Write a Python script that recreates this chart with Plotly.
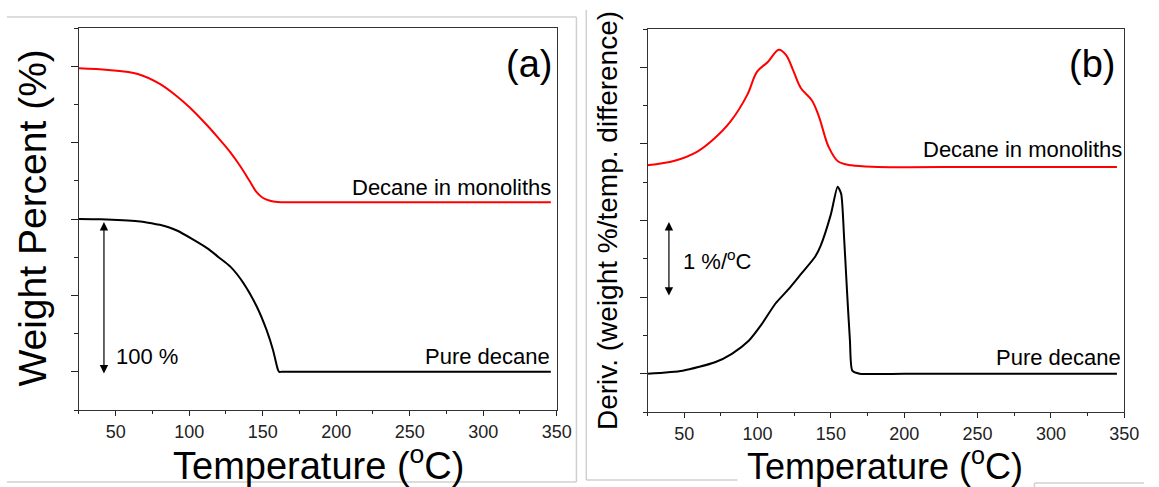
import plotly.graph_objects as go

# ---------------- data ----------------
# Panel (a): TGA weight percent (curves stacked with an offset on an unlabeled axis)
temp_a_pure = [25, 40, 55, 65, 72, 80, 86, 92, 101, 112.4, 120, 128, 137, 146, 152.6, 157, 160.4, 161.2, 163, 200, 250, 300, 346]
weight_pure = [100, 99.8, 99.2, 98.5, 97.6, 96.2, 94.6, 92.3, 87.5, 80.8, 75.0, 68.8, 57.9, 42.6, 27.4, 14.3, 1.2, 0, 0, 0, 0, 0, 0]

temp_a_mono = [25, 45, 65, 80, 92, 100, 112, 120, 128, 135, 141, 146, 150, 155, 160, 170, 200, 250, 300, 346]
weight_mono = [198.6, 197.5, 194.9, 188.4, 180.0, 173.3, 161.5, 152.8, 143.6, 134.2, 125.0, 117.4, 113.9, 111.9, 111.1, 110.9, 110.9, 110.9, 110.9, 110.9]

# Panel (b): derivative weight (%/oC, curves stacked with an offset)
temp_b_pure = [25, 49, 71, 82.5, 94, 103, 112, 121, 130, 139, 143, 150, 154.6, 157, 159, 161, 163, 164.6, 169.6, 200, 250, 300, 345]
deriv_pure = [0, 0.04, 0.15, 0.26, 0.43, 0.65, 0.91, 1.10, 1.31, 1.52, 1.67, 2.08, 2.44, 2.35, 1.78, 1.08, 0.43, 0.04, 0, 0, 0, 0, 0]

temp_b_mono = [25, 43.5, 59, 70, 81.5, 93, 99.6, 107, 114.5, 119.5, 124.3, 129.5, 137, 141.8, 148.5, 155, 164, 182, 250, 300, 345]
deriv_mono = [2.72, 2.78, 2.90, 3.06, 3.29, 3.64, 3.94, 4.07, 4.23, 4.16, 3.96, 3.73, 3.57, 3.36, 2.96, 2.77, 2.72, 2.70, 2.70, 2.70, 2.70]

x_ticks = [50, 100, 150, 200, 250, 300, 350]

# ---------------- figure ----------------
W, H = 1159, 487
FONT = "Liberation Sans, Arial, sans-serif"


def px(x):
    return x / W


def py(y):
    return 1 - y / H


fig = go.Figure()
fig.add_trace(go.Scatter(x=temp_a_mono, y=weight_mono, mode="lines", line=dict(color="#ff0000", width=2),
                         line_shape="spline", xaxis="x", yaxis="y", showlegend=False))
fig.add_trace(go.Scatter(x=temp_a_pure, y=weight_pure, mode="lines", line=dict(color="#000000", width=2),
                         line_shape="spline", line_smoothing=0.8, xaxis="x", yaxis="y", showlegend=False))
fig.add_trace(go.Scatter(x=temp_b_mono, y=deriv_mono, mode="lines", line=dict(color="#ff0000", width=2),
                         line_shape="spline", xaxis="x2", yaxis="y2", showlegend=False))
fig.add_trace(go.Scatter(x=temp_b_pure, y=deriv_pure, mode="lines", line=dict(color="#000000", width=2),
                         line_shape="spline", line_smoothing=0.6, xaxis="x2", yaxis="y2", showlegend=False))

xaxis_common = dict(
    range=[25, 350], tickvals=x_ticks, ticks="outside", ticklen=5, tickwidth=1, tickcolor="#222",
    showline=True, linecolor="#333", linewidth=1, mirror=True, showgrid=False, zeroline=False,
    tickfont=dict(family=FONT, size=18, color="#222"),
    minor=dict(dtick=25, tick0=0, ticks="outside", ticklen=3, tickcolor="#222", showgrid=False),
)

fig.update_layout(
    width=W, height=H, margin=dict(l=0, r=0, t=0, b=0), autosize=False,
    paper_bgcolor="white", plot_bgcolor="white",
    xaxis=dict(domain=[px(80), px(564)], anchor="y", **xaxis_common),
    yaxis=dict(domain=[py(410), py(28)], anchor="x", range=[-25, 225], tick0=0, dtick=50,
               showticklabels=False, ticks="outside", ticklen=7, tickcolor="#222",
               showline=True, linecolor="#333", linewidth=1, mirror=True, showgrid=False, zeroline=False,
               minor=dict(dtick=25, tick0=0, ticks="outside", ticklen=4, tickcolor="#222", showgrid=False)),
    xaxis2=dict(domain=[px(656), px(1139)], anchor="y2", **xaxis_common),
    yaxis2=dict(domain=[py(412), py(29)], anchor="x2", range=[-0.5, 4.5], tick0=0, dtick=1,
                showticklabels=False, ticks="outside", ticklen=7, tickcolor="#222",
                showline=True, linecolor="#333", linewidth=1, mirror=True, showgrid=False, zeroline=False,
                minor=dict(dtick=0.5, tick0=0, ticks="outside", ticklen=4, tickcolor="#222", showgrid=False)),
    font=dict(family=FONT, color="#000"),
)

ann = []
# axis titles
ann.append(dict(text="Weight Percent (%)", x=px(32), y=py(218), xref="paper", yref="paper",
                textangle=-90, showarrow=False, font=dict(size=39, family=FONT, color="#000"),
                xanchor="center", yanchor="middle"))
ann.append(dict(text="Temperature (<sup>o</sup>C)", x=px(322.5), y=py(463), xref="paper", yref="paper",
                showarrow=False, font=dict(size=38, family=FONT, color="#000"),
                xanchor="center", yanchor="middle"))
ann.append(dict(text="Deriv. (weight %/temp. difference)", x=px(615.5), y=py(220.5), xref="paper", yref="paper",
                textangle=-90, showarrow=False, font=dict(size=28, family=FONT, color="#000"),
                xanchor="center", yanchor="middle"))
ann.append(dict(text="Temperature (<sup>o</sup>C)", x=px(896.5), y=py(463.5), xref="paper", yref="paper",
                showarrow=False, font=dict(size=36, family=FONT, color="#000"),
                xanchor="center", yanchor="middle"))

# panel labels
ann.append(dict(text="(a)", x=331.2, y=201.4, xref="x", yref="y", showarrow=False,
                font=dict(size=38, family=FONT, color="#000"), xanchor="center", yanchor="middle"))
ann.append(dict(text="(b)", x=328.3, y=4.04, xref="x2", yref="y2", showarrow=False,
                font=dict(size=38, family=FONT, color="#000"), xanchor="center", yanchor="middle"))

# curve labels
ann.append(dict(text="Decane in monoliths", x=347.8, y=120.9, xref="x", yref="y", showarrow=False,
                font=dict(size=22, family=FONT, color="#000"), xanchor="right", yanchor="middle"))
ann.append(dict(text="Pure decane", x=346.9, y=9.7, xref="x", yref="y", showarrow=False,
                font=dict(size=22, family=FONT, color="#000"), xanchor="right", yanchor="middle"))
ann.append(dict(text="Decane in monoliths", x=349.6, y=2.93, xref="x2", yref="y2", showarrow=False,
                font=dict(size=22, family=FONT, color="#000"), xanchor="right", yanchor="middle"))
ann.append(dict(text="Pure decane", x=349.0, y=0.218, xref="x2", yref="y2", showarrow=False,
                font=dict(size=22, family=FONT, color="#000"), xanchor="right", yanchor="middle"))

# scale bars
ann.append(dict(text="100 %", x=48.5, y=9.7, xref="x", yref="y", showarrow=False,
                font=dict(size=22, family=FONT, color="#000"), xanchor="left", yanchor="middle"))
ann.append(dict(text="", x=42, y=98, ax=42, ay=-2.1, xref="x", yref="y", axref="x", ayref="y",
                showarrow=True, arrowhead=2, arrowside="end+start", arrowsize=1.4, arrowwidth=1.2,
                arrowcolor="#000"))
ann.append(dict(text="1 %/<sup>o</sup>C", x=47.9, y=1.484, xref="x2", yref="y2", showarrow=False,
                font=dict(size=22, family=FONT, color="#000"), xanchor="left", yanchor="middle"))
ann.append(dict(text="", x=39.6, y=1.98, ax=39.6, ay=1.0, xref="x2", yref="y2", axref="x2", ayref="y2",
                showarrow=True, arrowhead=2, arrowside="end+start", arrowsize=1.4, arrowwidth=1.2,
                arrowcolor="#000"))
fig.update_layout(annotations=ann)

# light grey image frame lines
grey = dict(color="#d0d0d0", width=1.5)
shapes = [
    dict(type="line", xref="paper", yref="paper", x0=px(7), x1=px(584), y0=py(17), y1=py(17), line=grey),
    dict(type="line", xref="paper", yref="paper", x0=px(584), x1=px(584), y0=py(17), y1=py(482), line=grey),
    dict(type="line", xref="paper", yref="paper", x0=px(7), x1=px(584), y0=py(482), y1=py(482), line=grey),
    dict(type="line", xref="paper", yref="paper", x0=px(594), x1=px(594), y0=py(10), y1=py(480), line=grey),
    dict(type="line", xref="paper", yref="paper", x0=px(594), x1=px(747), y0=py(480), y1=py(480), line=grey),
    dict(type="line", xref="paper", yref="paper", x0=px(1048), x1=px(1159), y0=py(483), y1=py(483), line=grey),
    dict(type="line", xref="paper", yref="paper", x0=px(1048), x1=px(1048), y0=py(483), y1=py(487), line=grey),
]
fig.update_layout(shapes=shapes)

fig.write_html("out.html", config={"responsive": False})
